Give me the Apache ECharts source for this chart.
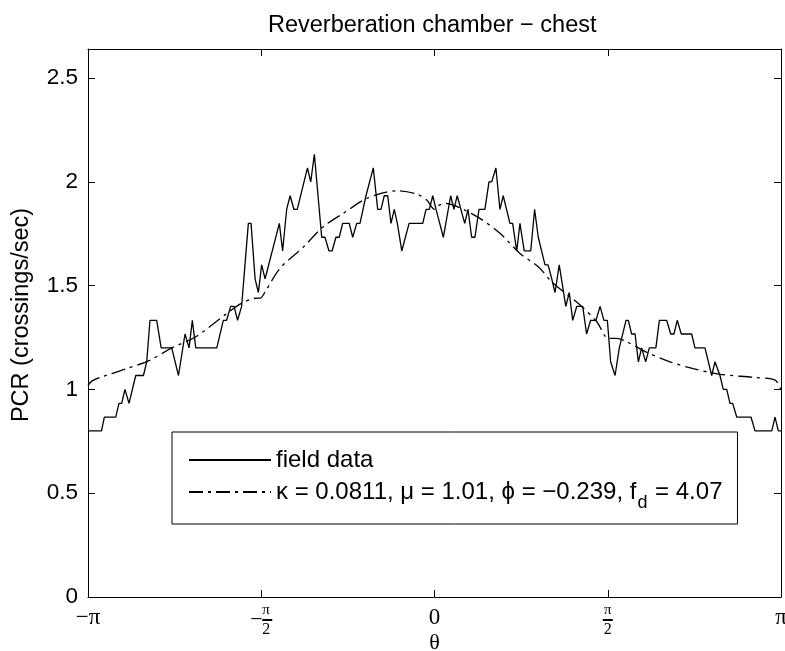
<!DOCTYPE html>
<html>
<head>
<meta charset="utf-8">
<script src="https://cdn.jsdelivr.net/npm/echarts@6/dist/echarts.min.js"></script>
<style>html,body{margin:0;padding:0;background:#fff;}#c{width:785px;height:651px;}</style>
</head>
<body>
<div id="c"></div>
<script>
// Field data: angle (degrees) and PCR (crossings/sec)
var fieldTheta = [-180,-173,-171.5,-165.6,-163.9,-162.5,-160.8,-158.7,-155.2,-151.2,-149.5,-147.8,-144.3,-142,-136.5,-133,-129.6,-127.5,-125.8,-124,-113.1,-109.7,-108,-105.9,-104.1,-102.3,-100.2,-96.7,-95.3,-93.2,-91.5,-89.8,-88,-80.6,-78.9,-76.8,-75,-73,-71.3,-66,-64.3,-62.4,-58.6,-56.9,-54.8,-53.2,-51.2,-49.5,-47.7,-44.3,-42.5,-40.4,-38.7,-35.6,-31.8,-29.5,-27.8,-26.1,-24.3,-22.6,-20.9,-19.3,-17,-13.2,-6.1,-4.4,-2.7,-0.9,0.8,4.6,8.4,10.1,11.8,15.7,17.4,19.3,21,23.1,26.2,28.3,29.7,31.9,34,35.7,39.2,40.6,42.7,44.4,46.6,50,52,53.9,57.4,59,60.9,62.6,64.8,68.2,70,71.8,73.9,77,79,81.1,83.9,86,88,89.8,91.5,93.8,96,99.5,100.7,102.4,104.2,105.9,107.6,109.7,111.6,115,116.8,120.6,122.7,124.4,126.1,128.2,133.6,135.3,140.5,144,145.7,148.3,150,151.8,153.5,154.9,157,164.4,166.5,175.2,176.9,178.6,180];
var fieldPCR = [0.8,0.8,0.867,0.867,0.933,0.933,1.0,0.933,1.067,1.067,1.133,1.333,1.333,1.2,1.2,1.067,1.267,1.2,1.333,1.2,1.2,1.333,1.333,1.4,1.4,1.333,1.4,1.8,1.8,1.533,1.467,1.6,1.533,1.8,1.667,1.867,1.933,1.867,1.867,2.067,2.0,2.133,1.733,1.733,1.667,1.667,1.733,1.733,1.8,1.8,1.733,1.8,1.8,1.933,2.067,1.867,1.867,1.933,1.933,1.8,1.867,1.8,1.667,1.8,1.8,1.867,1.867,1.933,1.867,1.733,1.933,1.867,1.933,1.8,1.867,1.733,1.733,1.867,1.867,2.0,2.0,2.067,1.867,1.933,1.8,1.8,1.667,1.8,1.667,1.667,1.867,1.733,1.6,1.6,1.533,1.467,1.6,1.4,1.467,1.333,1.4,1.4,1.267,1.333,1.333,1.4,1.333,1.333,1.133,1.067,1.2,1.333,1.333,1.267,1.267,1.133,1.2,1.133,1.2,1.2,1.333,1.333,1.267,1.267,1.333,1.267,1.267,1.2,1.2,1.067,1.133,1.067,1.0,1.0,0.933,0.933,0.867,0.867,0.8,0.8,0.867,0.8,0.8];

// Fitted model curve
var fitTheta = [-180,-178,-173,-160,-148,-136.5,-124,-109,-100,-92,-90.5,-88,-80.3,-68,-57.8,-47.4,-35.2,-19.6,-9.2,-4,0,2,5.5,9,15,23.6,34,44.4,53.9,61.7,75.6,84.3,90.3,94.6,99.8,110,122.3,134.4,148.3,165.6,176.9,180];
var fitPCR = [1.02,1.04,1.06,1.10,1.14,1.20,1.254,1.358,1.416,1.44,1.44,1.47,1.583,1.687,1.784,1.848,1.92,1.957,1.941,1.912,1.868,1.885,1.896,1.89,1.867,1.824,1.752,1.655,1.591,1.511,1.407,1.326,1.246,1.246,1.23,1.18,1.133,1.10,1.073,1.058,1.045,0.997];

var xTicks = [-180, -90, 0, 90, 180];
var yTicks = [0, 0.5, 1, 1.5, 2, 2.5];
var seriesNames = ['field data', 'fit'];
var fitLabel = 'κ = 0.0811, μ = 1.01, ϕ = −0.239, f{sub|d} = 4.07';

function zip(a, b) { return a.map(function (v, i) { return [v, b[i]]; }); }

var chart = echarts.init(document.getElementById('c'), null, {renderer: 'canvas'});
var serif = 'Liberation Serif';
var sans = 'Liberation Sans';

function xLabel(v) {
  if (v === -180) return '{s|−π}';
  if (v === 0) return '{s|0}';
  if (v === 180) return '{s|π}';
  if (v === -90) return '{pn|π}\n{mi|−}{bar|}\n{pd|2}';
  if (v === 90) return '{pn2|π}\n{bar|}\n{pd2|2}';
  return '';
}

function axisCommon() {
  return {
    axisLine: {show: true, onZero: false, lineStyle: {color: '#000', width: 1}},
    axisTick: {show: true, inside: true, length: 7, lineStyle: {color: '#000', width: 1}},
    splitLine: {show: false}
  };
}

chart.setOption({
  backgroundColor: '#fff',
  animation: false,
  title: {
    text: 'Reverberation chamber − chest',
    left: 263, top: 9,
    textStyle: {fontFamily: sans, fontSize: 23.5, fontWeight: 'normal', color: '#000'}
  },
  grid: {left: 88, right: 4, top: 49, bottom: 54, containLabel: false, outerBoundsMode: 'none'},
  xAxis: [
    Object.assign({
      type: 'value', min: -180, max: 180, interval: 90, position: 'bottom',
      name: 'θ', nameLocation: 'middle', nameGap: 35, nameMoveOverlap: false,
      nameTextStyle: {fontFamily: serif, fontSize: 22, color: '#000'},
      axisLabel: {
        show: true, margin: 7, color: '#000', fontFamily: serif, fontSize: 22,
        formatter: xLabel,
        rich: {
          s: {fontFamily: serif, fontSize: 23, lineHeight: 28, color: '#000'},
          pn: {fontFamily: serif, fontSize: 15, lineHeight: 13, align: 'left', padding: [0, 0, 0, 12], color: '#000'},
          pd: {fontFamily: serif, fontSize: 16, lineHeight: 14, align: 'left', padding: [0, 0, 0, 12], color: '#000'},
          pn2: {fontFamily: serif, fontSize: 15, lineHeight: 13, color: '#000'},
          pd2: {fontFamily: serif, fontSize: 16, lineHeight: 14, color: '#000'},
          mi: {fontFamily: serif, fontSize: 22, lineHeight: 6, width: 12, align: 'left', color: '#000'},
          bar: {width: 10, height: 2, lineHeight: 6, backgroundColor: '#000', align: 'left'}
        }
      }
    }, axisCommon()),
    Object.assign({
      type: 'value', min: -180, max: 180, interval: 90, position: 'top',
      axisLabel: {show: false}
    }, axisCommon())
  ],
  yAxis: [
    Object.assign({
      type: 'value', min: 0, max: 2.64, interval: 0.5, position: 'left',
      name: 'PCR (crossings/sec)', nameLocation: 'middle', nameGap: 54, nameRotate: 90,
      nameTextStyle: {fontFamily: sans, fontSize: 23.5, color: '#000', padding: [0, 0, 0, 16]},
      axisLabel: {
        show: true, margin: 10, color: '#000', fontFamily: sans, fontSize: 22.5,
        formatter: function (v) { return yTicks.indexOf(Math.round(v * 100) / 100) >= 0 ? String(v) : ''; }
      }
    }, axisCommon()),
    Object.assign({
      type: 'value', min: 0, max: 2.64, interval: 0.5, position: 'right',
      axisLabel: {show: false}
    }, axisCommon())
  ],
  legend: {
    left: 172, top: 432, orient: 'vertical',
    borderColor: '#000', borderWidth: 1, borderRadius: 0,
    backgroundColor: '#fff',
    padding: [16, 15, 12, 16],
    itemWidth: 82, itemHeight: 14, itemGap: 0,
    selectedMode: false,
    data: seriesNames,
    itemStyle: {opacity: 0},
    textStyle: {
      fontFamily: sans, fontSize: 24, color: '#000', lineHeight: 24,
      rich: {
        sub: {fontFamily: sans, fontSize: 18, lineHeight: 18, padding: [22, 1, 0, 1], color: '#000'}
      }
    },
    formatter: function (n) { return n === 'fit' ? fitLabel : n; }
  },
  series: [
    {
      name: seriesNames[0], type: 'line', data: zip(fieldTheta, fieldPCR),
      symbol: 'none', showSymbol: false, smooth: false,
      lineStyle: {color: '#000', width: 1.3}, itemStyle: {color: '#000'},
      z: 3
    },
    {
      name: seriesNames[1], type: 'line', data: zip(fitTheta, fitPCR),
      symbol: 'none', showSymbol: false, smooth: 0.3,
      lineStyle: {color: '#000', width: 1.3, type: [14, 5, 3, 5]}, itemStyle: {color: '#000'},
      z: 2
    }
  ]
});
</script>
</body>
</html>
